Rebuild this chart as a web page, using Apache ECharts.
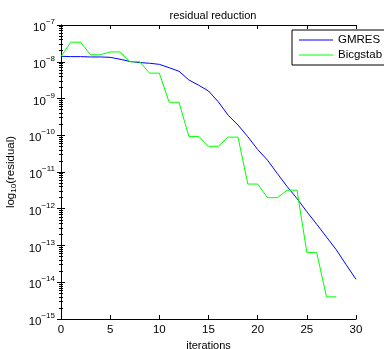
<!DOCTYPE html>
<html>
<head>
<meta charset="utf-8">
<script src="https://cdn.jsdelivr.net/npm/echarts@6/dist/echarts.min.js"></script>
<style>
html,body{margin:0;padding:0;background:#fff;}
#chart{width:384px;height:349px;}
</style>
</head>
<body>
<div id="chart"></div>
<script>
// residuals per iteration
var gmresIter = [0,1,2,3,4,5,6,7,8,9,10,11,12,13,14,15,16,17,18,19,20,21,22,23,24,25,26,27,28,29,30];
var gmresRes = [1.41e-8,1.38e-8,1.38e-8,1.35e-8,1.35e-8,1.32e-8,1.17e-8,1.02e-8,9.5e-9,9.1e-9,8.5e-9,
	6.9e-9,5.5e-9,3.2e-9,2.3e-9,1.6e-9,8.1e-10,3.5e-10,1.9e-10,9.1e-11,4.1e-11,
	2.1e-11,9.1e-12,4.0e-12,1.9e-12,8.3e-13,3.8e-13,1.7e-13,7.6e-14,3.0e-14,1.2e-14];
var bicgIter = [0,1,2,3,4,5,6,7,8,9,10,11,12,13,14,15,16,17,18,19,20,21,22,23,24,25,26,27,28];
var bicgRes = [1.4e-8,3.4e-8,3.4e-8,1.55e-8,1.55e-8,1.85e-8,1.85e-8,1.0e-8,1.0e-8,4.9e-9,4.9e-9,
	7.9e-10,7.9e-10,9.3e-11,9.3e-11,5e-11,5e-11,8.9e-11,8.9e-11,4.7e-12,4.7e-12,
	2e-12,2e-12,3.2e-12,3.2e-12,6.5e-14,6.5e-14,4e-15,4e-15];

function pairs(xs, ys){
	var out = [];
	for(var i=0;i<ys.length;i++){ out.push([xs[i], ys[i]]); }
	return out;
}

var font = 'Liberation Sans, Arial, sans-serif';
var richLab = {
	b: {fontSize: 11.5, fontFamily: font, color: '#000', lineHeight: 12, padding: [6, 0, 0, 0]},
	sup: {fontSize: 8, fontFamily: font, color: '#000', lineHeight: 9, padding: [0, 0, 6, 0]}
};

var myChart = echarts.init(document.getElementById('chart'));
var option = {
	animation: false,
	backgroundColor: '#fff',
	title: {
		text: 'residual reduction',
		left: 208, top: 5, textAlign: 'center',
		textStyle: {fontSize: 11, fontWeight: 'normal', fontFamily: font, color: '#000'}
	},
	legend: {
		left: 292, top: 30,
		orient: 'vertical',
		backgroundColor: '#fff',
		borderColor: '#000', borderWidth: 1, borderRadius: 0,
		padding: [4, 10, 4, 7],
		itemGap: 3,
		icon: 'rect',
		itemWidth: 34, itemHeight: 1,
		textStyle: {fontSize: 11.5, fontFamily: font, color: '#000'},
		data: [
			{name: 'GMRES', itemStyle: {color: '#0000ff', borderWidth: 0}},
			{name: 'Bicgstab', itemStyle: {color: '#00ff00', borderWidth: 0}}
		]
	},
	grid: {left: 61, right: 28, top: 25, bottom: 30, outerBoundsMode: 'none'},
	xAxis: [{
		type: 'value', min: 0, max: 30, interval: 5,
		name: 'iterations', nameLocation: 'middle', nameGap: 18,
		nameTextStyle: {fontSize: 11, fontFamily: font, color: '#000'},
		axisLine: {lineStyle: {color: '#000', width: 1}},
		axisTick: {inside: true, length: 4, lineStyle: {color: '#000'}},
		axisLabel: {fontSize: 11.5, fontFamily: font, color: '#000', margin: 5},
		splitLine: {show: false}
	}, {
		type: 'value', min: 0, max: 30, interval: 5, position: 'top',
		axisLine: {lineStyle: {color: '#000', width: 1}},
		axisTick: {inside: true, length: 4, lineStyle: {color: '#000'}},
		axisLabel: {show: false},
		splitLine: {show: false}
	}],
	yAxis: [{
		type: 'log', logBase: 10, min: 1e-15, max: 1e-7,
		name: 'log{sub|10}(residual)', nameLocation: 'middle', nameGap: 42, nameRotate: 90,
		nameTextStyle: {
			fontSize: 11.5, fontFamily: font, color: '#000',
			rich: {
				sub: {fontSize: 8, fontFamily: font, color: '#000', padding: [5, 0, 0, 0]}
			}
		},
		axisLine: {lineStyle: {color: '#000', width: 1}},
		axisTick: {inside: true, length: 4, lineStyle: {color: '#000'}},
		minorTick: {show: true, splitNumber: 9, length: 2, lineStyle: {color: '#000'}},
		axisLabel: {
			margin: 6,
			formatter: function(v){
				var e = Math.round(Math.log10(v));
				return '{b|10}{sup|\u2212' + (-e) + '}';
			},
			rich: richLab
		},
		splitLine: {show: false}
	}, {
		type: 'log', logBase: 10, min: 1e-15, max: 1e-7, position: 'right',
		axisLine: {lineStyle: {color: '#000', width: 1}},
		axisTick: {inside: true, length: 4, lineStyle: {color: '#000'}},
		minorTick: {show: true, splitNumber: 9, length: 2, lineStyle: {color: '#000'}},
		axisLabel: {show: false},
		splitLine: {show: false}
	}],
	series: [{
		name: 'GMRES', type: 'line', symbol: 'none',
		lineStyle: {color: '#0000ff', width: 1}, itemStyle: {color: '#0000ff'},
		data: pairs(gmresIter, gmresRes)
	}, {
		name: 'Bicgstab', type: 'line', symbol: 'none',
		lineStyle: {color: '#00ff00', width: 1}, itemStyle: {color: '#00ff00'},
		data: pairs(bicgIter, bicgRes)
	}]
};
myChart.setOption(option);
</script>
</body>
</html>
